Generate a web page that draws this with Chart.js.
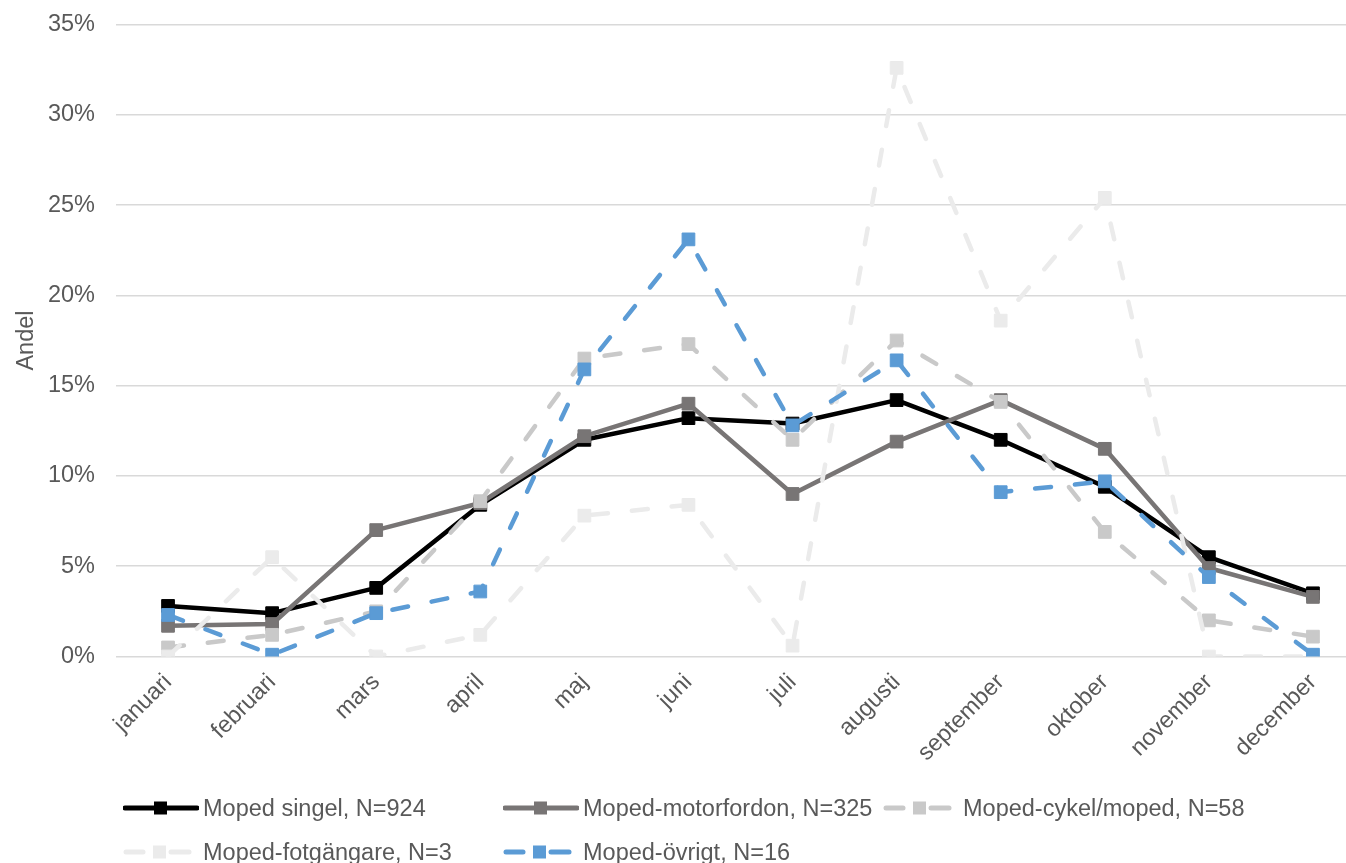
<!DOCTYPE html>
<html>
<head>
<meta charset="utf-8">
<script src="https://cdn.jsdelivr.net/npm/chart.js@4.4.1/dist/chart.umd.min.js"></script>
<style>
  html, body { margin: 0; padding: 0; background: #fff; overflow: hidden; width: 1346px; height: 863px; }
  #wrap { position: relative; width: 1346px; height: 863px; overflow: hidden; }
  #c { position: absolute; left: 0; top: 0; }
  .lg { position: absolute; height: 26px; display: flex; align-items: center; font-family: "Liberation Sans", Arial, sans-serif; font-size: 23.5px; color: #595959; white-space: nowrap; }
  .lg svg { margin-right: 4px; }
</style>
</head>
<body>
<div id="wrap">
  <canvas id="c" width="1375" height="863" style="width:1375px;height:863px"></canvas>
  <div id="legend"></div>
</div>
<script>
const months = ["januari","februari","mars","april","maj","juni","juli","augusti","september","oktober","november","december"];
const yTicks = [0, 5, 10, 15, 20, 25, 30, 35];
const seriesNames = ["Moped singel, N=924","Moped-motorfordon, N=325","Moped-cykel/moped, N=58","Moped-fotgängare, N=3","Moped-övrigt, N=16"];
const singel = [2.8, 2.4, 3.8, 8.4, 12.0, 13.2, 12.9, 14.2, 12.0, 9.4, 5.5, 3.5];
const motorfordon = [1.7, 1.8, 7.0, 8.5, 12.2, 14.0, 9.0, 11.9, 14.2, 11.5, 4.9, 3.3];
const cykelMoped = [0.5, 1.2, 2.5, 8.6, 16.5, 17.3, 12.0, 17.5, 14.1, 6.9, 2.0, 1.1];
const fotgangare = [0, 5.5, 0, 1.2, 7.8, 8.4, 0.6, 32.6, 18.6, 25.4, 0, 0];
const ovrigt = [2.3, 0.1, 2.4, 3.6, 15.9, 23.1, 12.8, 16.4, 9.1, 9.7, 4.4, 0.1];

const colors = ["#000000", "#787575", "#c9c9c9", "#ebebeb", "#5b9bd5"];
const dashed = [false, false, true, true, true];
const values = [singel, motorfordon, cykelMoped, fotgangare, ovrigt];

const FONT = '"Liberation Sans", Arial, sans-serif';
const TXT = "#595959";

const datasets = values.map((v, i) => ({
  label: seriesNames[i],
  data: v,
  borderColor: colors[i],
  backgroundColor: colors[i],
  borderWidth: 4.5,
  borderDash: dashed[i] ? [16, 24] : [],
  borderCapStyle: dashed[i] ? 'round' : 'butt',
  borderJoinStyle: 'round',
  pointStyle: 'rect',
  pointRadius: 9,
  pointBorderWidth: 1,
  pointBorderColor: colors[i],
  pointBackgroundColor: colors[i],
  tension: 0,
  fill: false,
  order: 5 - i
}));

new Chart(document.getElementById('c'), {
  type: 'line',
  data: { labels: months, datasets },
  options: {
    responsive: false,
    animation: false,
    events: [],
    layout: { padding: { left: 0, right: 2, top: 24.5, bottom: 0 } },
    plugins: { legend: { display: false }, tooltip: { enabled: false } },
    scales: {
      x: {
        offset: true,
        grid: { display: false, drawTicks: false },
        border: { display: false },
        ticks: {
          color: TXT, font: { family: FONT, size: 23.5 },
          minRotation: 45, maxRotation: 45, padding: 12, autoSkip: false
        },
        afterFit: (s) => { s.height = 863 - 656.5; }
      },
      y: {
        min: 0, max: 35,
        afterBuildTicks: (s) => { s.ticks = yTicks.map(v => ({ value: v })); },
        grid: { color: "#d9d9d9", lineWidth: 1.5, drawTicks: false },
        border: { display: false },
        ticks: {
          color: TXT, font: { family: FONT, size: 23.5 }, padding: 21,
          callback: (v) => v + '%'
        },
        title: {
          display: true, text: 'Andel', color: TXT,
          font: { family: FONT, size: 23.5 }, padding: { top: 12, bottom: 0 }
        },
        afterFit: (s) => { s.width = 116; s.paddingTop = 8; s.paddingBottom = 0; }
      }
    }
  }
});

// HTML legend
const legendPos = [
  { x: 123, y: 808 }, { x: 503, y: 808 }, { x: 883, y: 808 },
  { x: 123, y: 852 }, { x: 503, y: 852 }
];
const lg = document.getElementById('legend');
seriesNames.forEach((name, i) => {
  const d = document.createElement('div');
  d.className = 'lg';
  d.style.left = legendPos[i].x + 'px';
  d.style.top = (legendPos[i].y - 13) + 'px';
  const c = colors[i];
  let svg;
  if (!dashed[i]) {
    svg = `<svg width="76" height="16"><line x1="2" y1="8" x2="74" y2="8" stroke="${c}" stroke-width="5" stroke-linecap="round"/><rect x="31" y="1.5" width="13" height="13" fill="${c}"/></svg>`;
  } else {
    svg = `<svg width="76" height="16"><line x1="3" y1="8" x2="20" y2="8" stroke="${c}" stroke-width="5" stroke-linecap="round"/><rect x="30" y="1.5" width="13" height="13" fill="${c}"/><line x1="48" y1="8" x2="66" y2="8" stroke="${c}" stroke-width="5" stroke-linecap="round"/></svg>`;
  }
  d.innerHTML = svg + `<span>${name}</span>`;
  lg.appendChild(d);
});
</script>
</body>
</html>
